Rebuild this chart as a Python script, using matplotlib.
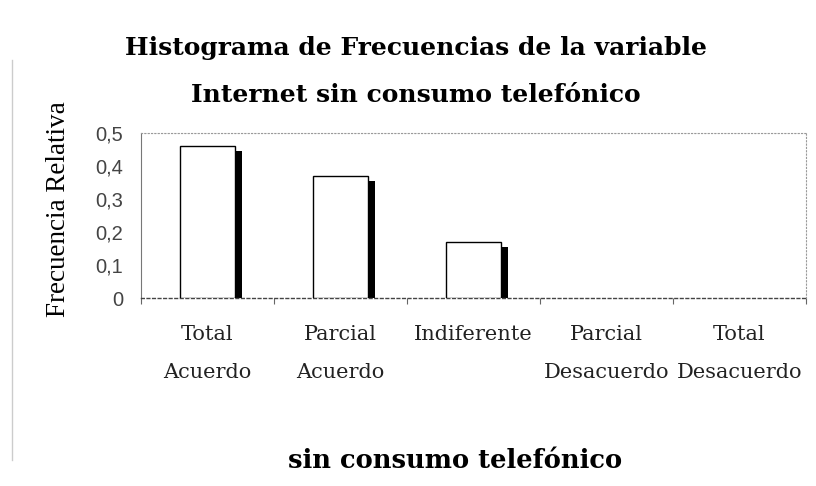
import matplotlib
matplotlib.use("Agg")
import matplotlib.pyplot as plt
import matplotlib.transforms as mtransforms
from matplotlib.lines import Line2D

categorias = ["Total\nAcuerdo", "Parcial\nAcuerdo", "Indiferente",
              "Parcial\nDesacuerdo", "Total\nDesacuerdo"]
frecuencia_relativa = [0.46, 0.37, 0.17, 0.0, 0.0]
yticks = [0, 0.1, 0.2, 0.3, 0.4, 0.5]
ytick_labels = ["0", "0,1", "0,2", "0,3", "0,4", "0,5"]

fig = plt.figure(figsize=(8.16, 4.86), dpi=100)
ax = fig.add_axes([141 / 816, 1 - 298 / 486, 665 / 816, 165 / 486])

x = list(range(len(categorias)))
ancho = 0.41

# sombra negra desplazada detras de cada columna
sombra = mtransforms.ScaledTranslation(7 / 100, -5 / 100, fig.dpi_scale_trans)
barras_sombra = ax.bar(x, frecuencia_relativa, width=ancho, color="black",
                       linewidth=0, zorder=2)
for b in barras_sombra:
    b.set_transform(ax.transData + sombra)
    b.set_visible(b.get_height() > 0)
barras = ax.bar(x, frecuencia_relativa, width=ancho, color="white",
                edgecolor="black", linewidth=1.0, zorder=3)
for b in barras:
    b.set_visible(b.get_height() > 0)

ax.set_xlim(-0.5, 4.5)
ax.set_ylim(0, 0.5)
ax.axhline(0.5, color="#888888", linestyle=(0, (1, 2)), linewidth=0.8)

for lado in ["top", "right"]:
    ax.spines[lado].set_color("#999999")
    ax.spines[lado].set_linestyle((0, (1, 2)))
    ax.spines[lado].set_linewidth(0.8)
ax.spines["left"].set_color("#777777")
ax.spines["left"].set_linewidth(0.8)
ax.spines["bottom"].set_color("#444444")
ax.spines["bottom"].set_linestyle((0, (2, 2)))
ax.spines["bottom"].set_linewidth(1.0)

ax.set_yticks(yticks)
ax.set_yticklabels(ytick_labels, fontsize=14.5, color="#444444",
                   family="Liberation Sans")
ax.tick_params(axis="y", length=0, pad=13)

# marcas del eje x en los limites de cada categoria
ax.set_xticks([i - 0.5 for i in range(len(categorias) + 1)])
ax.set_xticklabels([])
ax.tick_params(axis="x", direction="out", length=4, color="#666666")
etiquetas_y = mtransforms.blended_transform_factory(ax.transData, fig.transFigure)
for i, c in enumerate(categorias):
    ax.text(i, 1 - 325 / 486, c, ha="center", va="top", fontsize=15,
            family="DejaVu Serif", color="#222222", linespacing=2.3,
            transform=etiquetas_y)

ax.set_ylabel("Frecuencia Relativa", fontsize=19.5, family="Liberation Serif")
ax.yaxis.set_label_coords(-70 / 665, 0.54)

fig.text(416 / 816, 1 - 48 / 486, "Histograma de Frecuencias de la variable",
         ha="center", va="center", fontsize=18, fontweight="bold",
         family="DejaVu Serif")
fig.text(416 / 816, 1 - 95 / 486, "Internet sin consumo telefónico",
         ha="center", va="center", fontsize=18, fontweight="bold",
         family="DejaVu Serif")
fig.text(455 / 816, 1 - 460 / 486, "sin consumo telefónico",
         ha="center", va="center", fontsize=18.5, fontweight="bold",
         family="DejaVu Serif")

# borde tenue del area del grafico
fig.add_artist(Line2D([12 / 816, 12 / 816], [1 - 460 / 486, 1 - 60 / 486],
                      transform=fig.transFigure, color="#cccccc", linewidth=1))

fig.savefig("out.png", dpi=100)
